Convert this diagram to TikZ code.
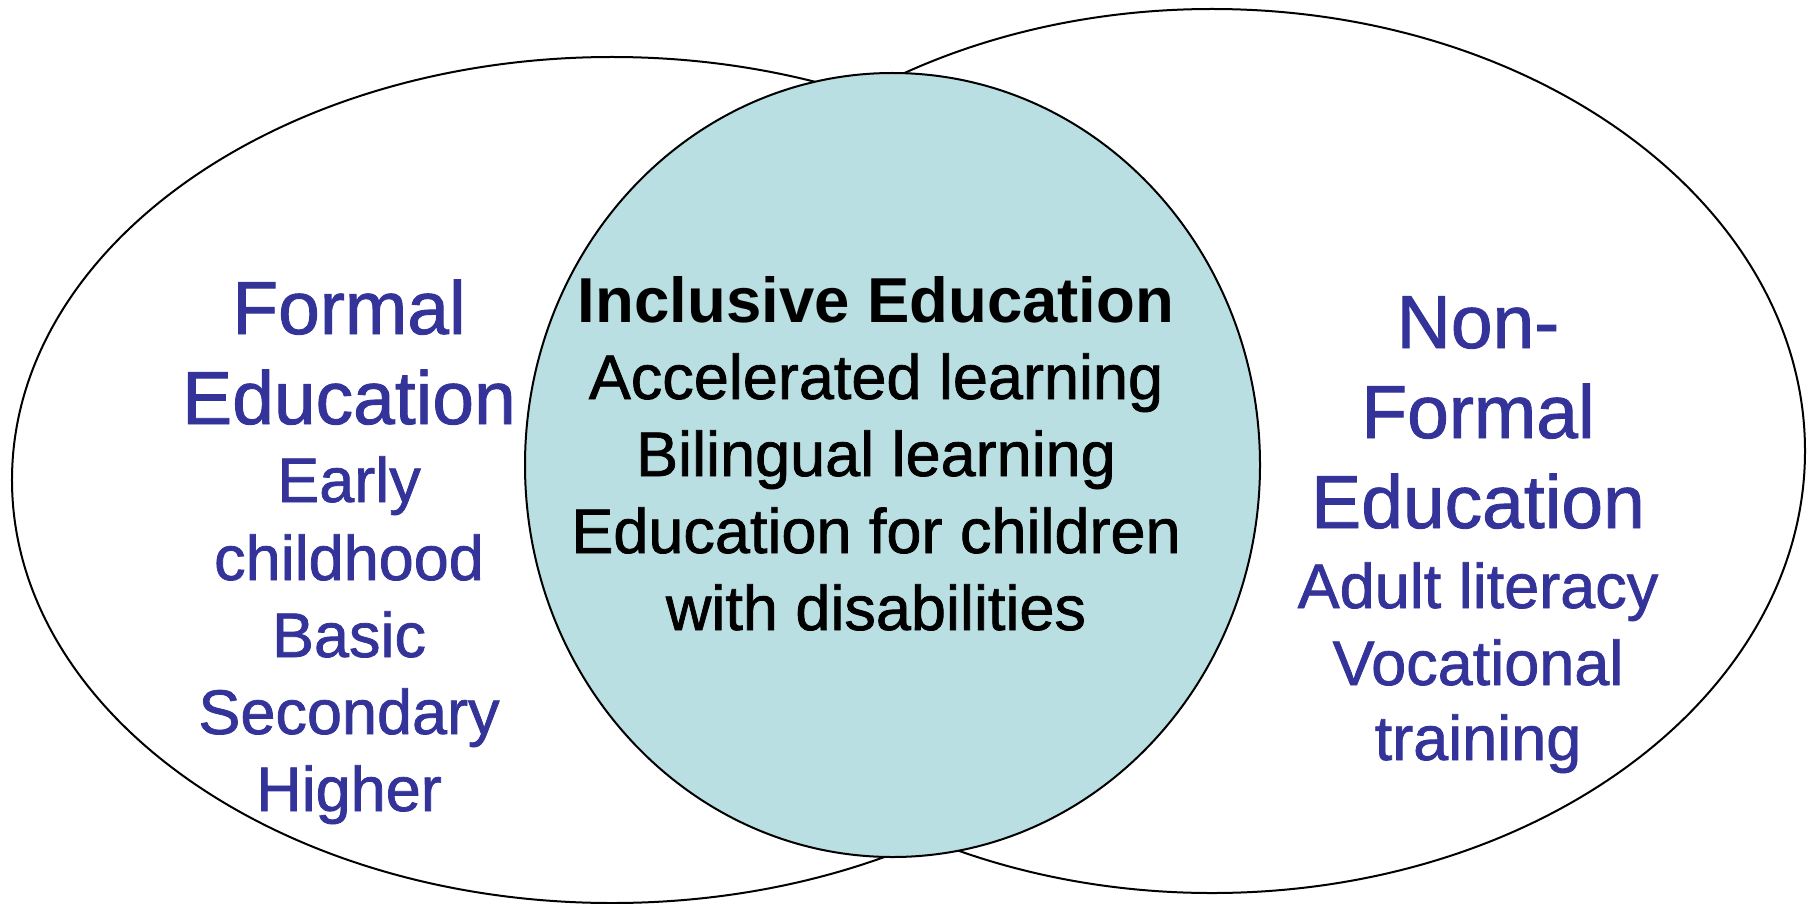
\documentclass[tikz,border=0pt]{standalone}
\usepackage{fontspec}
\setmainfont{Liberation Sans}
\newfontfamily\heavyfont[FakeBold=1.2]{Liberation Sans}
\usetikzlibrary{shapes.geometric}
\definecolor{txtblue}{HTML}{333399}
\definecolor{tealfill}{HTML}{B9DFE2}
\tikzset{
  setshape/.style={ellipse, draw=black, line width=2bp, inner sep=0pt, outer sep=0pt},
  bigtxt/.style={anchor=base, inner sep=0pt, text=txtblue, font=\heavyfont\fontsize{75bp}{90bp}\selectfont},
  smalltxt/.style={anchor=base, inner sep=0pt, text=txtblue, font=\heavyfont\fontsize{63bp}{77bp}\selectfont},
  midtxt/.style={anchor=base, inner sep=0pt, text=black, font=\heavyfont\fontsize{63bp}{77bp}\selectfont},
  midhead/.style={anchor=base, inner sep=0pt, text=black, font=\fontsize{63.5bp}{77bp}\selectfont\bfseries},
}
\begin{document}
\begin{tikzpicture}[x=1bp,y=-1bp]
\useasboundingbox (0,0) rectangle (1815,904);
% sets
\node[setshape, fill=white, minimum width=1200bp, minimum height=846bp] (formal) at (612,480) {};
\node[setshape, fill=white, minimum width=1186bp, minimum height=884bp] (nonformal) at (1212,451) {};
\node[setshape, fill=tealfill, minimum width=735bp, minimum height=784bp] (inclusive) at (892.5,465) {};
% left texts
\node[bigtxt] (f1) at (349,334) {Formal};
\node[bigtxt] (f2) at (349,424) {Education};
\node[smalltxt] (f3) at (349,502) {Early};
\node[smalltxt] (f4) at (349,580) {childhood};
\node[smalltxt] (f5) at (349,657) {Basic};
\node[smalltxt] (f6) at (349,734) {Secondary};
\node[smalltxt] (f7) at (349,811) {Higher};
% centre texts
\node[midhead] (i1) at (876,322) {Inclusive Education};
\node[midtxt] (i2) at (876,399) {Accelerated learning};
\node[midtxt] (i3) at (876,476) {Bilingual learning};
\node[midtxt] (i4) at (876,553) {Education for children};
\node[midtxt] (i5) at (876,630) {with disabilities};
% right texts
\node[bigtxt] (n1) at (1478,348) {Non-};
\node[bigtxt] (n2) at (1478,438) {Formal};
\node[bigtxt] (n3) at (1478,528) {Education};
\node[smalltxt] (n4) at (1478,608) {Adult literacy};
\node[smalltxt] (n5) at (1478,685) {Vocational};
\node[smalltxt] (n6) at (1478,760) {training};
\end{tikzpicture}
\end{document}
